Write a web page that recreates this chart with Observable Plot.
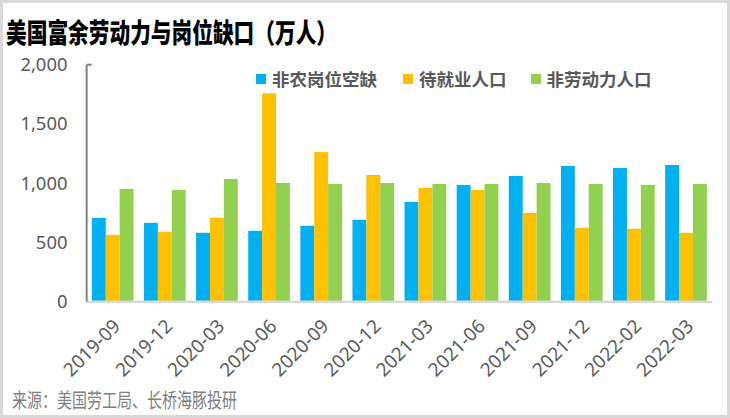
<!DOCTYPE html>
<html>
<head>
<meta charset="utf-8">
<script src="https://cdn.jsdelivr.net/npm/d3@7"></script>
<script src="https://cdn.jsdelivr.net/npm/@observablehq/plot@0.6"></script>
<style>
  html, body { margin: 0; padding: 0; background: #fff; }
  #wrap { position: relative; width: 730px; height: 418px; box-sizing: border-box; border: 3px solid #d9d9d9; overflow: hidden; font-family: "Noto Sans CJK SC", "Noto Sans", sans-serif; }
  #title { position: absolute; left: 3px; top: 9px; font-size: 20.7px; font-weight: 900; color: #000; transform: scaleY(1.3); transform-origin: 0 0; white-space: nowrap; }
  #chart { position: absolute; left: -3px; top: -3px; }
  #legend { position: absolute; left: 253px; top: 63px; display: flex; font-size: 17.5px; font-weight: 700; color: #595959; white-space: nowrap; }
  #legend .item { display: flex; align-items: center; }
  #legend .sw { width: 10px; height: 10px; margin-right: 6px; }
  #caption { position: absolute; left: 9px; top: 382px; font-size: 15px; color: #7f7f7f; white-space: nowrap; transform: scaleY(1.35); transform-origin: 0 0; }
</style>
</head>
<body>
<div id="wrap">
  <div id="title">美国富余劳动力与岗位缺口（万人）</div>
  <div id="chart"></div>
  <div id="legend"></div>
  <div id="caption">来源：美国劳工局、长桥海豚投研</div>
</div>
<script>
const dates = ["2019-09","2019-12","2020-03","2020-06","2020-09","2020-12","2021-03","2021-06","2021-09","2021-12","2022-02","2022-03"];
const seriesNames = ["非农岗位空缺","待就业人口","非劳动力人口"];
const seriesColors = ["#00B0F0","#FFC000","#92D050"];
const openings   = [708, 666, 582, 599, 641, 692, 843, 986, 1061, 1146, 1129, 1154];
const unemployed = [565, 591, 708, 1759, 1263, 1070, 961, 944, 750, 624, 616, 582];
const notInLF    = [952, 944, 1036, 1002, 994, 1002, 994, 994, 1002, 994, 986, 994];
const yTicks = [0, 500, 1000, 1500, 2000];

const seriesValues = [openings, unemployed, notInLF];
const data = [];
dates.forEach((d, i) => seriesValues.forEach((vals, s) => data.push({date: d, series: seriesNames[s], value: vals[i]})));

const W = 730, H = 395, ML = 87, MR = 15, MT = 65, MB = 395 - 303;

const chart = Plot.plot({
  width: W, height: H,
  marginLeft: ML, marginRight: MR, marginTop: MT, marginBottom: MB,
  style: {fontFamily: "'Noto Sans', 'DejaVu Sans', sans-serif", background: "transparent"},
  fx: {domain: dates, paddingInner: 0.2, paddingOuter: 0.1, round: false, label: null},
  x: {domain: seriesNames, padding: 0, round: false, axis: null},
  y: {domain: [0, 2000], label: null},
  color: {domain: seriesNames, range: seriesColors},
  marks: [
    Plot.barY(data, {fx: "date", x: "series", y: "value", fill: "series"}),
    Plot.axisY({ticks: yTicks, tickFormat: d3.format(","), tickSize: 0, tickPadding: 25, fontSize: 18.5, fill: "#595959", label: null}),
    Plot.axisFx({anchor: "bottom", tickRotate: -45, tickSize: 0, tickPadding: 21, dx: 4, fontSize: 19, fill: "#595959", label: null})
  ]
});
document.getElementById("chart").appendChild(chart);

// baseline and y-axis line placed with the chart's own y scale
const ys = chart.scale("y");
const y0 = ys.apply(0), yTop = ys.apply(2000);
const svg = d3.select(chart);
svg.append("line").attr("x1", ML).attr("x2", W - MR).attr("y1", y0).attr("y2", y0)
  .attr("stroke", "#d9d9d9").attr("stroke-width", 2.5);
svg.append("line").attr("x1", ML).attr("x2", ML).attr("y1", yTop).attr("y2", y0)
  .attr("stroke", "#808080").attr("stroke-width", 2);
svg.append("line").attr("x1", ML).attr("x2", ML + 5).attr("y1", yTop).attr("y2", yTop)
  .attr("stroke", "#808080").attr("stroke-width", 2);

const legend = d3.select("#legend");
seriesNames.forEach((n, i) => {
  const it = legend.append("div").attr("class", "item").style("margin-right", i === 0 ? "26px" : "24px");
  it.append("div").attr("class", "sw").style("background", seriesColors[i]);
  it.append("span").text(n);
});
</script>
</body>
</html>
